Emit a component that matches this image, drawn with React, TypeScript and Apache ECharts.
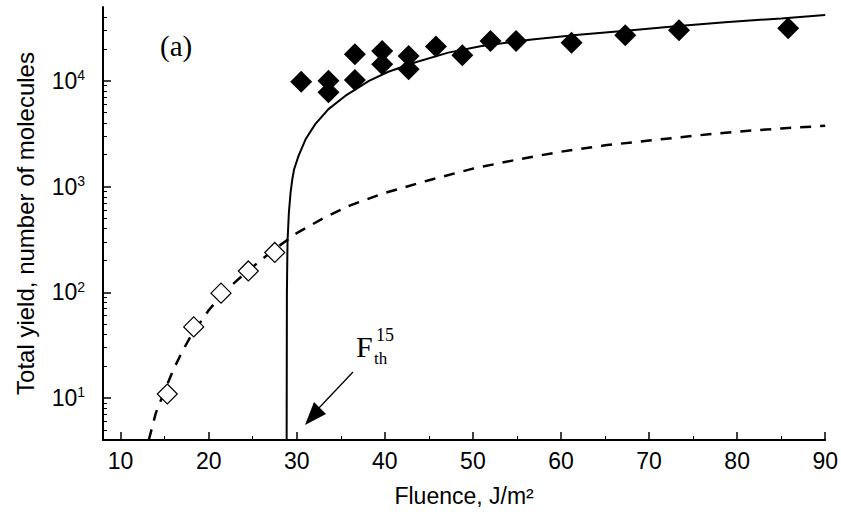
import React, { useEffect, useRef } from "react";
import * as echarts from "echarts";

// ---- data ----
const xMajorTicks = [10, 20, 30, 40, 50, 60, 70, 80, 90];
const xMinorTicks = [15, 25, 35, 45, 55, 65, 75, 85];
const yMajorTicks = [10, 100, 1000, 10000];
const yMinorTicks = [
  5, 6, 7, 8, 9,
  20, 30, 40, 50, 60, 70, 80, 90,
  200, 300, 400, 500, 600, 700, 800, 900,
  2000, 3000, 4000, 5000, 6000, 7000, 8000, 9000,
  20000, 30000, 40000,
];

// filled diamonds (experiment, above threshold)
const filledX = [30.5, 33.6, 33.6, 36.6, 36.6, 39.7, 39.7, 42.7, 42.7, 45.8, 48.8, 52.0, 54.9, 61.2, 67.3, 73.4, 85.8];
const filledY = [9800, 10000, 7800, 17900, 10200, 19200, 14400, 17200, 12900, 21100, 17500, 23900, 23900, 23000, 27000, 30200, 31500];

// open diamonds (below threshold)
const openX = [15.3, 18.3, 21.4, 24.5, 27.5];
const openY = [10.9, 47, 98, 159, 238];

// solid curve (model above threshold)
const solidX = [28.85, 28.88, 28.95, 29.1, 29.3, 29.5, 29.7, 30.2, 31.0, 32.1, 33.6, 35.5, 38.2, 40.4, 43.5, 47.2, 51.0, 56.7, 62.0, 67.7, 73.0, 79.0, 85.0, 90.0];
const solidY = [4, 100, 300, 560, 880, 1180, 1460, 1950, 2800, 3900, 5400, 7200, 10000, 12200, 15000, 18500, 21400, 24600, 27300, 30000, 32800, 36000, 39000, 42100];

// dashed curve (model below threshold)
const dashX = [13.2, 14, 15, 16, 17, 18, 20, 22, 24, 26, 28, 30, 33, 36, 40, 45, 50, 55, 60, 65, 70, 75, 80, 85, 90];
const dashY = [4, 7.2, 11.7, 18.6, 27.5, 38.9, 67.6, 105, 148, 204, 275, 363, 501, 661, 871, 1148, 1479, 1799, 2138, 2455, 2723, 3020, 3311, 3548, 3758];

const xMin = 8;
const xMax = 90;
const yMin = 4;
const yMax = 50000;

const zip = (xs: number[], ys: number[]) => xs.map((x, i) => [x, ys[i]]);

const SANS = "'Liberation Sans', Arial, sans-serif";
const SERIF = "'Liberation Serif', 'Times New Roman', serif";

export default function App() {
  const ref = useRef<HTMLDivElement>(null);

  useEffect(() => {
    if (!ref.current) return;
    const chart = echarts.init(ref.current, undefined, { renderer: "svg" });

    const option: any = {
      animation: false,
      backgroundColor: "#ffffff",
      grid: { left: 103, right: 14, top: 7, bottom: 76, containLabel: false },
      xAxis: [
        {
          type: "value",
          min: xMin,
          max: xMax,
          position: "bottom",
          name: "Fluence, J/m²",
          nameLocation: "middle",
          nameGap: 44,
          nameTextStyle: { fontFamily: SANS, fontSize: 23, color: "#000" },
          axisLine: { show: true, lineStyle: { color: "#000", width: 2 } },
          axisTick: { show: true, inside: true, length: 8, lineStyle: { color: "#000", width: 1.5 }, customValues: xMajorTicks },
          axisLabel: { show: true, customValues: xMajorTicks, fontFamily: SANS, fontSize: 23, color: "#000", margin: 9 },
          splitLine: { show: false },
        },
        {
          type: "value",
          min: xMin,
          max: xMax,
          position: "bottom",
          axisLine: { show: false },
          axisTick: { show: true, inside: true, length: 4, lineStyle: { color: "#000", width: 1 }, customValues: xMinorTicks },
          axisLabel: { show: false },
          splitLine: { show: false },
        },
      ],
      yAxis: [
        {
          type: "log",
          logBase: 10,
          min: yMin,
          max: yMax,
          position: "left",
          name: "Total yield, number of molecules",
          nameLocation: "middle",
          nameGap: 66,
          nameTextStyle: { fontFamily: SANS, fontSize: 24, color: "#000" },
          axisLine: { show: true, lineStyle: { color: "#000", width: 2 } },
          axisTick: { show: true, inside: true, length: 8, lineStyle: { color: "#000", width: 1.5 }, customValues: yMajorTicks },
          axisLabel: {
            show: true,
            customValues: yMajorTicks,
            margin: 18,
            formatter: (v: number) => `{b|10}{s|${Math.round(Math.log10(v))}}`,
            rich: {
              b: { fontFamily: SANS, fontSize: 23, color: "#000", lineHeight: 25 },
              s: { fontFamily: SANS, fontSize: 14, color: "#000", verticalAlign: "top", lineHeight: 25, padding: [0, 0, 10, 0] },
            },
          },
          splitLine: { show: false },
        },
        {
          type: "log",
          logBase: 10,
          min: yMin,
          max: yMax,
          position: "left",
          axisLine: { show: false },
          axisTick: { show: true, inside: true, length: 4, lineStyle: { color: "#000", width: 1 }, customValues: yMinorTicks },
          axisLabel: { show: false },
          splitLine: { show: false },
        },
      ],
      series: [
        {
          type: "line",
          name: "model (dashed)",
          data: zip(dashX, dashY),
          showSymbol: false,
          symbol: "none",
          smooth: false,
          lineStyle: { color: "#000", width: 2.5, type: [11, 9] },
          z: 2,
        },
        {
          type: "line",
          name: "model (solid)",
          data: zip(solidX, solidY),
          showSymbol: false,
          symbol: "none",
          smooth: false,
          lineStyle: { color: "#000", width: 2 },
          z: 2,
        },
        {
          type: "scatter",
          name: "above threshold",
          data: zip(filledX, filledY),
          symbol: "diamond",
          symbolSize: 22,
          itemStyle: { color: "#000", opacity: 1 },
          z: 3,
        },
        {
          type: "scatter",
          name: "below threshold",
          data: zip(openX, openY),
          symbol: "diamond",
          symbolSize: 20,
          itemStyle: { color: "#fff", borderColor: "#000", borderWidth: 1.2, opacity: 1 },
          z: 4,
        },
      ],
      graphic: [
        {
          type: "text",
          left: 160,
          top: 31,
          style: { text: "(a)", fontFamily: SERIF, fontSize: 29, fill: "#000" },
        },
        {
          type: "group",
          children: [
            { type: "text", x: 356, y: 331, style: { text: "F", fontFamily: SERIF, fontSize: 30, fill: "#000" } },
            { type: "text", x: 374, y: 350, style: { text: "th", fontFamily: SERIF, fontSize: 17, fill: "#000" } },
            { type: "text", x: 376, y: 326, style: { text: "15", fontFamily: SERIF, fontSize: 18, fill: "#000" } },
            { type: "line", shape: { x1: 353, y1: 372, x2: 318, y2: 409 }, style: { stroke: "#000", lineWidth: 1.3 } },
            { type: "polygon", shape: { points: [[305, 425], [314, 402], [326, 414]] }, style: { fill: "#000" } },
          ],
        },
      ],
    };

    chart.setOption(option);
    return () => chart.dispose();
  }, []);

  return (
    <div
      ref={ref}
      style={{ position: "fixed", left: 0, top: 0, width: 841, height: 516, background: "#fff" }}
    />
  );
}
